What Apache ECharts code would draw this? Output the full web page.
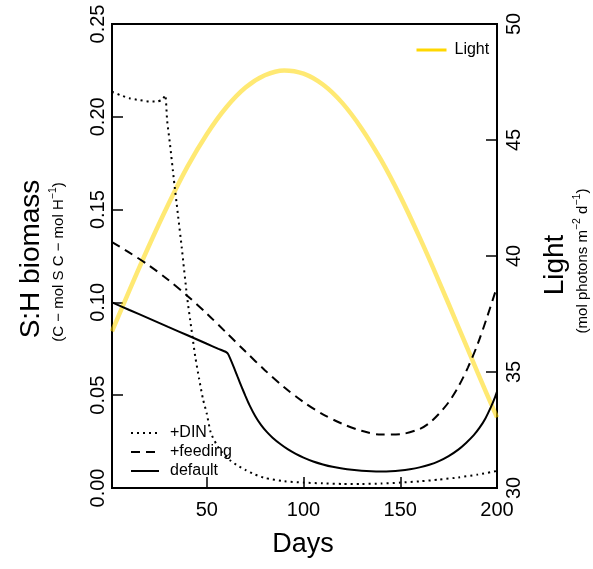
<!DOCTYPE html>
<html>
<head>
<meta charset="utf-8">
<script src="https://cdn.jsdelivr.net/npm/echarts@6/dist/echarts.min.js"></script>
<style>html,body{margin:0;padding:0;background:#fff;}#c{width:593px;height:569px;}</style>
</head>
<body>
<div id="c"></div>
<script>
// ---- data ----
const xTicks = [50, 100, 150, 200];

const lightDays = [1,10,20,30,40,50,60,70,80,90,100,110,120,130,140,150,160,170,180,190,200];
const lightVals = [36.75,38.52,40.42,42.21,43.85,45.25,46.40,47.26,47.79,48.00,47.86,47.39,46.60,45.50,44.15,42.57,40.80,38.91,36.95,34.97,33.04];

const dinDays = [1,5,10,15,20,24,27,28.5,29.5,31,33,35,37,39.8,42,44,46,48,50,52,55,58,62,66,70,75,80,90,100,110,120,130,140,150,160,170,180,190,200];
const dinVals = [0.2135,0.2118,0.2100,0.2090,0.2083,0.2082,0.2092,0.2117,0.1980,0.1850,0.1660,0.1480,0.1300,0.1030,0.0860,0.0710,0.0590,0.0480,0.0400,0.0300,0.0235,0.0190,0.0150,0.0120,0.0097,0.0072,0.0054,0.0036,0.0029,0.0025,0.0022,0.0022,0.0024,0.0029,0.0036,0.0045,0.0057,0.0072,0.0092];

const feedDays = [1,10,20,30,40,50,60,70,80,90,100,110,120,130,140,150,160,165,170,175,180,185,190,195,200];
const feedVals = [0.1325,0.1268,0.1200,0.1122,0.1035,0.0940,0.0838,0.0735,0.0635,0.0543,0.0463,0.0397,0.0346,0.0308,0.0288,0.0290,0.0318,0.0350,0.0400,0.0462,0.0545,0.0650,0.0775,0.0925,0.1085];

const defDays = [1,10,20,30,40,50,56,59,60,61,62,64,66,68,70,72,75,78,81,84,88,92,96,100,105,110,115,120,125,130,135,140,145,150,155,160,165,170,175,180,184,188,191,194,197,199,200];
const defVals = [0.1000,0.0959,0.0914,0.0868,0.0823,0.0777,0.0750,0.0737,0.0732,0.0722,0.0700,0.0650,0.0597,0.0545,0.0495,0.0448,0.0388,0.0340,0.0302,0.0271,0.0237,0.0208,0.0184,0.0164,0.0143,0.0127,0.0114,0.0105,0.0098,0.0093,0.0090,0.0089,0.0090,0.0094,0.0101,0.0111,0.0125,0.0145,0.0172,0.0207,0.0243,0.0285,0.0325,0.0375,0.0440,0.0490,0.0520];

const pairs = (d, v) => d.map((x, i) => [x, v[i]]);
const FONT = '"Liberation Sans", Arial, Helvetica, sans-serif';

const chart = echarts.init(document.getElementById('c'), null, {renderer: 'canvas'});
chart.setOption({
  animation: false,
  backgroundColor: '#fff',
  textStyle: {fontFamily: FONT},
  grid: {left: 112, right: 96, top: 24, bottom: 81, show: true, borderColor: '#000', borderWidth: 2, backgroundColor: 'transparent'},
  xAxis: {
    type: 'value', min: 1, max: 200,
    axisLine: {show: false},
    axisTick: {show: true, inside: true, length: 11, customValues: xTicks, lineStyle: {color: '#000', width: 1.5}},
    axisLabel: {customValues: xTicks, color: '#000', fontSize: 20, fontFamily: FONT, margin: 12},
    splitLine: {show: false}
  },
  yAxis: [
    {
      type: 'value', min: 0, max: 0.25, interval: 0.05, position: 'left',
      axisLine: {show: false},
      axisTick: {show: true, inside: true, length: 11, lineStyle: {color: '#000', width: 1.5}},
      axisLabel: {color: '#000', fontSize: 20, fontFamily: FONT, rotate: 90, margin: 4, formatter: v => v.toFixed(2)},
      splitLine: {show: false}
    },
    {
      type: 'value', min: 30, max: 50, interval: 5, position: 'right',
      axisLine: {show: false},
      axisTick: {show: true, inside: true, length: 11, lineStyle: {color: '#000', width: 1.5}},
      axisLabel: {color: '#000', fontSize: 20, fontFamily: FONT, rotate: 90, margin: 7},
      splitLine: {show: false}
    }
  ],
  legend: [
    {
      data: ['+DIN', '+feeding', 'default'],
      orient: 'vertical', left: 125, top: 420,
      itemWidth: 28, itemHeight: 12, itemGap: 3,
      itemStyle: {color: 'rgba(0,0,0,0)', borderColor: 'rgba(0,0,0,0)', borderWidth: 0, opacity: 0},
      textStyle: {color: '#000', fontSize: 16, fontFamily: FONT, padding: [0, 0, 0, 6]}
    },
    {
      data: ['Light'],
      orient: 'vertical', left: 410, top: 37,
      itemWidth: 30, itemHeight: 12,
      itemStyle: {color: 'rgba(0,0,0,0)', borderColor: 'rgba(0,0,0,0)', borderWidth: 0, opacity: 0},
      lineStyle: {color: '#FFD700', width: 3},
      textStyle: {color: '#000', fontSize: 16, fontFamily: FONT, padding: [0, 0, 0, 3]}
    }
  ],
  graphic: [
    {type: 'text', x: 31, y: 259, rotation: Math.PI / 2, style: {text: 'S:H biomass', font: '28px ' + FONT, fill: '#000', align: 'center', verticalAlign: 'middle'}},
    {type: 'text', x: 57, y: 262, rotation: Math.PI / 2, style: {
      text: '{n|(C \u2212 mol S C \u2212 mol H}{s|\u22121}{n|)}',
      fill: '#000', align: 'center', verticalAlign: 'middle',
      rich: {n: {fontSize: 15, fontFamily: FONT, fill: '#000', lineHeight: 18, verticalAlign: 'bottom'}, s: {fontSize: 10.5, fontFamily: FONT, fill: '#000', lineHeight: 18, verticalAlign: 'top'}}
    }},
    {type: 'text', x: 555, y: 265, rotation: Math.PI / 2, style: {text: 'Light', font: '28px ' + FONT, fill: '#000', align: 'center', verticalAlign: 'middle'}},
    {type: 'text', x: 581, y: 261, rotation: Math.PI / 2, style: {
      text: '{n|(mol photons m}{s|\u22122}{n| d}{s|\u22121}{n|)}',
      fill: '#000', align: 'center', verticalAlign: 'middle',
      rich: {n: {fontSize: 15, fontFamily: FONT, fill: '#000', lineHeight: 18, verticalAlign: 'bottom'}, s: {fontSize: 10.5, fontFamily: FONT, fill: '#000', lineHeight: 18, verticalAlign: 'top'}}
    }},
    {type: 'text', x: 303, y: 545, style: {text: 'Days', font: '27px ' + FONT, fill: '#000', align: 'center', verticalAlign: 'middle'}}
  ],
  series: [
    {
      name: 'Light', type: 'line', yAxisIndex: 1, data: pairs(lightDays, lightVals),
      showSymbol: false, symbol: 'none', smooth: 0.3, z: 1,
      lineStyle: {color: 'rgba(255,215,0,0.55)', width: 4.5},
      itemStyle: {color: '#FFD700'}
    },
    {
      name: '+DIN', type: 'line', yAxisIndex: 0, data: pairs(dinDays, dinVals),
      showSymbol: false, symbol: 'none', smooth: 0.2, z: 3,
      lineStyle: {color: '#000', width: 2, type: [2, 4]},
      itemStyle: {color: '#000'}
    },
    {
      name: '+feeding', type: 'line', yAxisIndex: 0, data: pairs(feedDays, feedVals),
      showSymbol: false, symbol: 'none', smooth: 0.3, z: 3,
      lineStyle: {color: '#000', width: 2, type: [9, 6]},
      itemStyle: {color: '#000'}
    },
    {
      name: 'default', type: 'line', yAxisIndex: 0, data: pairs(defDays, defVals),
      showSymbol: false, symbol: 'none', smooth: 0.2, z: 3,
      lineStyle: {color: '#000', width: 2},
      itemStyle: {color: '#000'}
    }
  ]
});
</script>
</body>
</html>
